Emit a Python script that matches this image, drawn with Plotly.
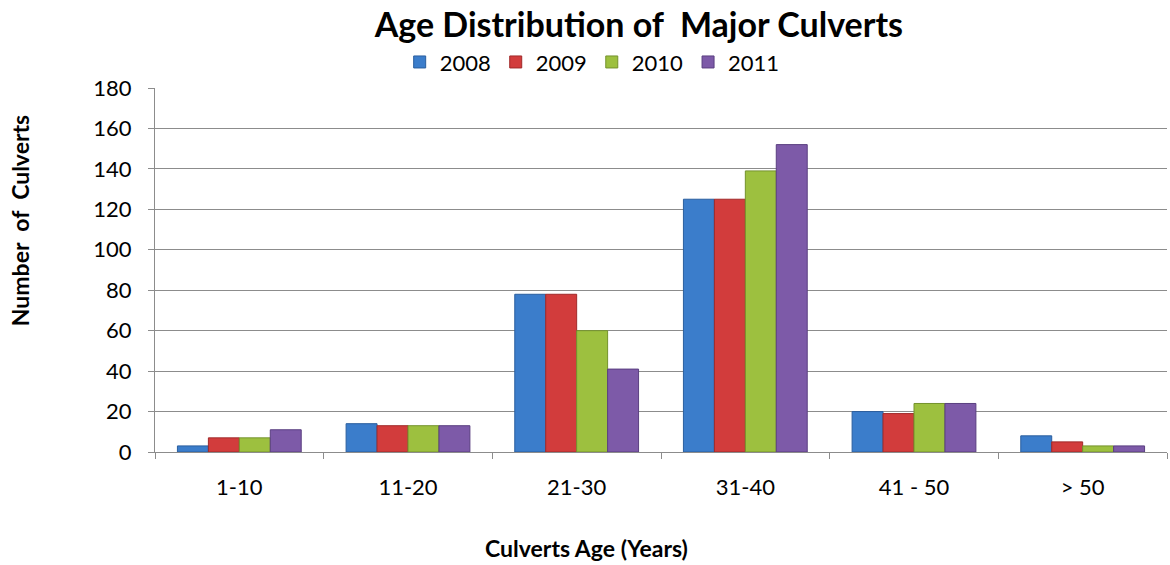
import plotly.graph_objects as go

# Age bands of major culverts and the count in each band per year
age_bands = ["1-10", "11-20", "21-30", "31-40", "41 - 50", "> 50"]
counts_2008 = [3, 14, 78, 125, 20, 8]
counts_2009 = [7, 13, 78, 125, 19, 5]
counts_2010 = [7, 13, 60, 139, 24, 3]
counts_2011 = [11, 13, 41, 152, 24, 3]
years = ["2008", "2009", "2010", "2011"]
y_ticks = [0, 20, 40, 60, 80, 100, 120, 140, 160, 180]

series = [counts_2008, counts_2009, counts_2010, counts_2011]
fills = ["#3B7DCB", "#D23C3C", "#9DC03F", "#7D5AA8"]
edges = ["#2A5E9E", "#A02A2A", "#74922C", "#5A3F80"]

font_family = "Lato, 'Open Sans', sans-serif"

fig = go.Figure()
for name, vals, fill, edge in zip(years, series, fills, edges):
    fig.add_trace(go.Bar(
        x=age_bands, y=vals, name=name,
        marker=dict(color=fill, line=dict(color=edge, width=1)),
    ))

fig.update_layout(
    width=1170, height=565,
    margin=dict(l=155, r=3, t=88, b=113),
    paper_bgcolor="white", plot_bgcolor="white",
    barmode="group", bargap=0.266, bargroupgap=0.0,
    font=dict(family=font_family, size=22, color="black"),
    title=dict(
        text="<b>Age Distribution of  Major Culverts</b>",
        x=0.546, xanchor="center", y=0.956, yanchor="middle",
        font=dict(size=34, family=font_family, color="black"),
    ),
    legend=dict(
        orientation="h", x=0.432, xanchor="center", y=1.071, yanchor="middle",
        font=dict(size=22), tracegroupgap=0,
        bgcolor="rgba(0,0,0,0)",
    ),
    showlegend=True,
    annotations=[
        dict(text="<b>Number  of  Culverts</b>", textangle=-90,
             xref="paper", yref="paper", x=-0.1334, y=0.637,
             xanchor="center", yanchor="middle", showarrow=False,
             font=dict(size=23)),
        dict(text="<b>Culverts Age (Years)</b>",
             xref="paper", yref="paper", x=0.426, y=-0.2637,
             xanchor="center", yanchor="middle", showarrow=False,
             font=dict(size=23)),
    ],
)

fig.update_yaxes(
    range=[0, 180], tickvals=y_ticks,
    showgrid=True, gridcolor="#8C8C8C", gridwidth=1,
    showline=True, linecolor="#8C8C8C", linewidth=1,
    ticks="outside", ticklen=6, tickcolor="#8C8C8C",
    ticklabelstandoff=12,
    zeroline=False,
)
fig.update_xaxes(
    showline=True, linecolor="#8C8C8C", linewidth=1,
    ticks="outside", tickson="boundaries", ticklen=6, tickcolor="#8C8C8C",
    ticklabelstandoff=16,
)

fig.write_html("out.html")
